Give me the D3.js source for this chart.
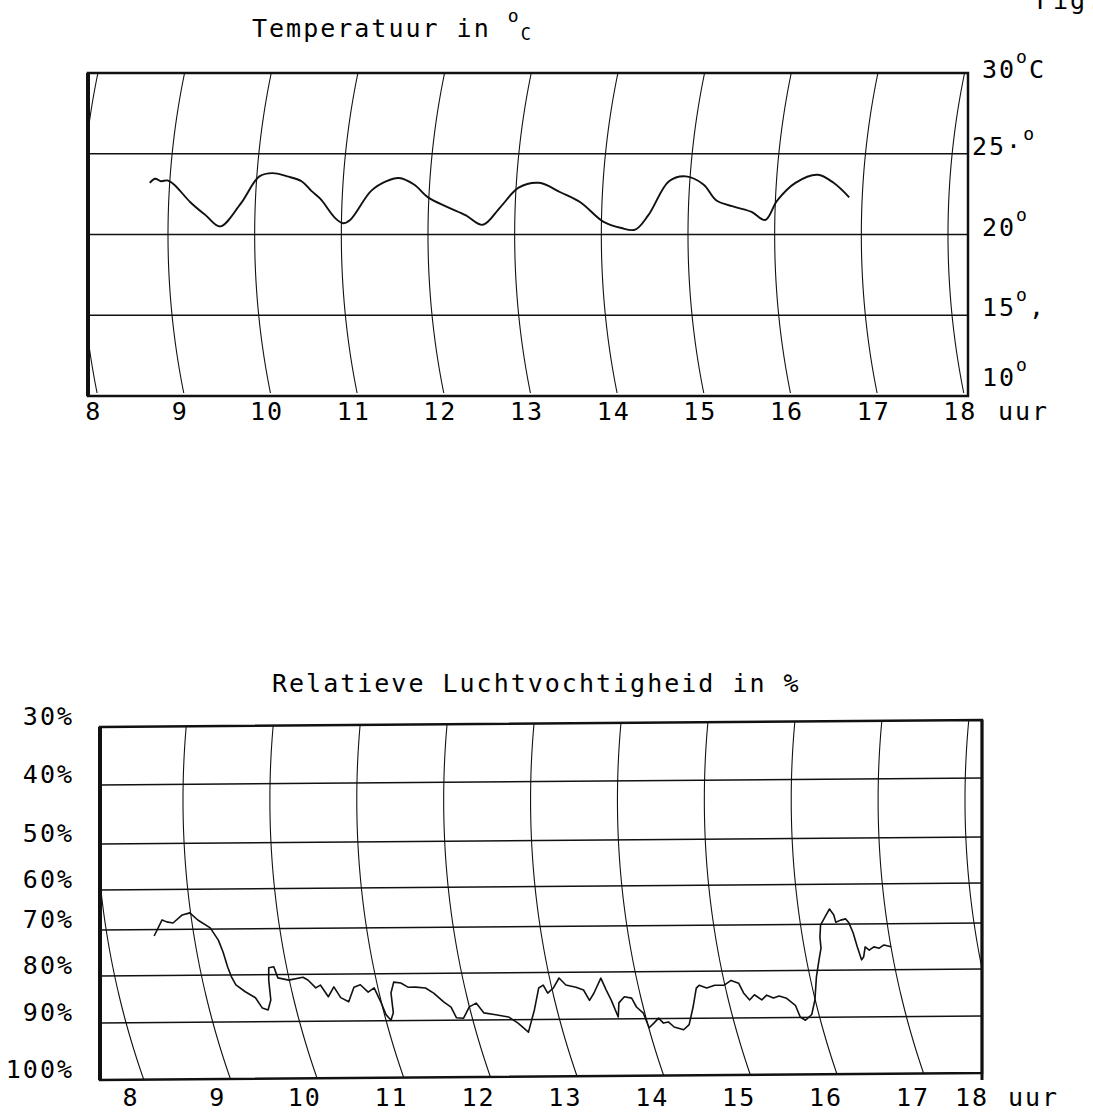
<!DOCTYPE html>
<html lang="nl">
<head>
<meta charset="UTF-8">
<title>Temperatuur en luchtvochtigheid</title>
<script src="https://cdn.jsdelivr.net/npm/d3@7"></script>
<style>
    html, body {
        margin: 0;
        padding: 0;
        background: #fff;
        overflow: hidden;
    }
    text {
        font-family: "DejaVu Sans Mono", monospace;
        fill: #000;
        font-size: 25px;
        letter-spacing: 2px;
    }
</style>
</head>
<body>
<script>
    // uren op de registreerstrook
    let hours = [8, 9, 10, 11, 12, 13, 14, 15, 16, 17, 18];

    // temperatuur in graden C
    let tempTicks = [10, 15, 20, 25, 30];
    let tempTime = [8.77, 8.83, 8.90, 8.97, 9.05, 9.25, 9.43, 9.60, 9.83, 10.03, 10.18, 10.35, 10.52, 10.64,
        10.75, 10.93, 11.02, 11.10, 11.33, 11.50, 11.64, 11.82, 11.99, 12.22, 12.43, 12.63, 12.83, 13.03,
        13.26, 13.52, 13.75, 14.02, 14.23, 14.39, 14.54, 14.76, 14.95, 15.16, 15.32, 15.54, 15.73, 15.89,
        16.02, 16.22, 16.47, 16.66, 16.85];
    let tempValue = [23.2, 23.45, 23.3, 23.35, 23.1, 22.0, 21.2, 20.5, 21.9, 23.6, 23.8, 23.6, 23.3, 22.7,
        22.2, 21.0, 20.7, 20.9, 22.7, 23.3, 23.5, 23.1, 22.3, 21.7, 21.2, 20.6, 21.7, 22.9,
        23.2, 22.6, 22.0, 20.8, 20.4, 20.3, 21.2, 23.3, 23.6, 23.1, 22.1, 21.7, 21.4, 20.9,
        22.1, 23.2, 23.7, 23.2, 22.3];

    // relatieve luchtvochtigheid in %
    let rhTicks = [30, 40, 50, 60, 70, 80, 90, 100];
    let rhTime = [8.54, 8.66, 8.71, 8.78, 8.90, 8.99, 9.07, 9.20, 9.27, 9.30, 9.32, 9.34, 9.37, 9.46, 9.56,
        9.61, 9.67, 9.73, 9.76, 9.79, 9.85, 9.87, 9.99, 10.16, 10.21, 10.28, 10.34, 10.40, 10.49, 10.54,
        10.62, 10.72, 10.80, 10.87, 10.95, 10.99, 11.01, 11.05, 11.10, 11.13, 11.19, 11.27, 11.34, 11.43,
        11.54, 11.62, 11.71, 11.78, 11.81, 11.89, 11.99, 12.08, 12.14, 12.27, 12.41, 12.50, 12.59, 12.73,
        12.84, 12.90, 12.93, 13.01, 13.10, 13.16, 13.27, 13.35, 13.39, 13.46, 13.58, 13.61, 13.64, 13.67,
        13.72, 13.80, 13.88, 13.91, 13.97, 13.99, 14.06, 14.13, 14.17, 14.23, 14.28, 14.38, 14.46, 14.56,
        14.65, 14.69, 14.77, 14.87, 14.98, 15.07, 15.15, 15.18, 15.23, 15.30, 15.37, 15.44, 15.51, 15.58,
        15.66, 15.74, 15.76, 15.81, 15.90, 15.98, 16.06, 16.13, 16.18, 16.19, 16.22, 16.30, 16.35, 16.39,
        16.40, 16.46, 16.52, 16.55, 16.58, 16.60, 16.62, 16.65, 16.69, 16.73, 16.79, 16.85, 16.91, 16.99];
    let rhValue = [71.4, 67.6, 68.1, 68.4, 66.4, 65.9, 67.7, 69.7, 72.4, 75.0, 78.3, 80.4, 82.1, 83.6, 84.9,
        87.1, 87.5, 85.4, 81.1, 78.5, 78.3, 80.7, 81.2, 80.6, 81.2, 82.9, 82.3, 84.8, 82.7, 85.0,
        85.9, 82.8, 82.3, 83.9, 83.0, 86.2, 88.7, 89.9, 88.3, 84.1, 81.8, 82.0, 82.9, 82.9,
        83.1, 84.2, 86.1, 87.2, 89.5, 89.6, 87.2, 86.4, 88.5, 88.9, 89.4, 90.6, 92.2, 87.9,
        83.3, 82.7, 84.4, 83.3, 81.2, 82.7, 83.2, 83.8, 86.0, 84.5, 81.3, 83.8, 86.0, 89.6,
        86.6, 85.3, 85.6, 87.5, 88.8, 91.6, 90.8, 89.9, 90.8, 90.6, 91.5, 92.0, 91.1, 87.6,
        83.6, 83.0, 83.6, 83.0, 83.0, 82.0, 82.6, 84.7, 86.2, 85.1, 86.2, 85.2, 85.8, 85.4,
        85.9, 87.4, 89.9, 90.5, 89.4, 86.3, 81.4, 77.8, 75.2, 72.8, 70.2, 67.7, 66.2, 67.7,
        69.5, 69.0, 68.7, 69.7, 71.9, 75.0, 77.8, 77.2, 75.0, 75.7, 75.0, 75.3, 74.6, 75.0];

    let width = 1093;
    let height = 1116;

    let svg = d3.select('body').append('svg')
        .attr('width', width)
        .attr('height', height);

    let ink = '#111';
    let line = d3.line();

    // ---------- temperatuur ----------
    let T = {left: 88, right: 968, top: 73, bottom: 396};
    let xT = d3.scaleLinear().domain([9, 18]).range([168, 948]);
    let yT = d3.scaleLinear().domain([10, 30]).range([T.bottom, T.top]);
    // de uurlijnen zijn cirkelbogen (schrijfarm)
    let radT = 800, midT = 235;
    let bendT = py => radT - Math.sqrt(radT * radT - (py - midT) * (py - midT));

    svg.append('clipPath').attr('id', 'clipT')
        .append('rect')
        .attr('x', T.left).attr('y', T.top)
        .attr('width', T.right - T.left).attr('height', T.bottom - T.top);

    let gT = svg.append('g');
    let gTc = gT.append('g').attr('clip-path', 'url(#clipT)');

    gTc.selectAll('.grid')
        .data(tempTicks.slice(1, -1))
        .enter().append('line')
        .attr('x1', T.left).attr('x2', T.right)
        .attr('y1', d => yT(d)).attr('y2', d => yT(d))
        .attr('stroke', ink).attr('stroke-width', 1.3);

    gTc.selectAll('.hour')
        .data(hours)
        .enter().append('path')
        .attr('d', h => line(d3.range(T.top, T.bottom + 1, 4).map(py => [xT(h) + bendT(py), py])))
        .attr('fill', 'none').attr('stroke', ink).attr('stroke-width', 1.1);

    let tempData = tempTime.map((t, i) => [t, tempValue[i]]);
    gTc.append('path')
        .attr('d', d3.line()
            .x(d => xT(d[0]) + bendT(yT(d[1])))
            .y(d => yT(d[1]))
            .curve(d3.curveCatmullRom)(tempData))
        .attr('fill', 'none').attr('stroke', ink).attr('stroke-width', 1.9);

    gT.append('rect')
        .attr('x', T.left).attr('y', T.top)
        .attr('width', T.right - T.left).attr('height', T.bottom - T.top)
        .attr('fill', 'none').attr('stroke', ink).attr('stroke-width', 2.5);
    gT.append('line')
        .attr('x1', T.left).attr('x2', T.left).attr('y1', T.top).attr('y2', T.bottom)
        .attr('stroke', ink).attr('stroke-width', 4);

    // titel en labels
    let title1 = gT.append('text').attr('x', 252).attr('y', 37);
    title1.append('tspan').text('Temperatuur in ');
    title1.append('tspan').attr('dy', -15).attr('font-size', 18).text('o');
    title1.append('tspan').attr('dy', 18).attr('font-size', 17).text('C');

    let tLab = gT.selectAll('.tlab')
        .data(tempTicks.slice().reverse())
        .enter().append('text')
        .attr('x', d => d === 25 ? 972 : 982)
        .attr('y', d => yT(d) + (d === 10 ? -10 : d === 30 ? 5 : 1));
    tLab.append('tspan').text(d => d + (d === 25 ? '·' : ''));
    tLab.append('tspan').attr('dy', -15).attr('font-size', 18).text('o');
    tLab.append('tspan').attr('dy', 15).text(d => d === 30 ? 'C' : d === 15 ? ',' : '');

    gT.selectAll('.hlab')
        .data(hours)
        .enter().append('text')
        .attr('x', h => xT(h) + bendT(T.bottom) - 4)
        .attr('y', 420)
        .attr('text-anchor', 'middle')
        .text(h => h);
    gT.append('text').attr('x', 998).attr('y', 420).text('uur');

    svg.append('text').attr('x', 1036).attr('y', 9).text('Fig.');

    // ---------- relatieve luchtvochtigheid ----------
    let B = {left: 100, right: 982, top: 727, bottom: 1080};
    let xB = d3.scaleLinear().domain([9, 18]).range([183, 965]);
    let yB = d3.scaleLinear().domain(rhTicks).range([727, 785, 844, 890, 930, 976, 1023, 1080]);
    let radB = 844, midB = 800;
    let bendB = py => radB - Math.sqrt(radB * radB - (py - midB) * (py - midB));
    // de strook ligt iets scheef
    let tilt = px => -7 * (px - B.left) / (B.right - B.left);

    let boxB = [
        [B.left, yB(30) + tilt(B.left)], [B.right, yB(30) + tilt(B.right)],
        [B.right, yB(100) + tilt(B.right)], [B.left, yB(100) + tilt(B.left)]
    ];

    svg.append('clipPath').attr('id', 'clipB')
        .append('path').attr('d', line(boxB) + 'Z');

    let gB = svg.append('g');
    let gBc = gB.append('g').attr('clip-path', 'url(#clipB)');

    gBc.selectAll('.grid')
        .data(rhTicks.slice(1, -1))
        .enter().append('line')
        .attr('x1', B.left).attr('x2', B.right)
        .attr('y1', d => yB(d) + tilt(B.left)).attr('y2', d => yB(d) + tilt(B.right))
        .attr('stroke', ink).attr('stroke-width', 1.4);

    gBc.selectAll('.hour')
        .data(hours)
        .enter().append('path')
        .attr('d', h => line(d3.range(B.top - 8, B.bottom + 1, 4).map(py => [xB(h) + bendB(py), py])))
        .attr('fill', 'none').attr('stroke', ink).attr('stroke-width', 1.1);

    let rhData = rhTime.map((t, i) => [t, rhValue[i]]);
    gBc.append('path')
        .attr('d', d3.line()
            .x(d => xB(d[0]) + bendB(yB(d[1])))
            .y(d => yB(d[1]) + tilt(xB(d[0]) + bendB(yB(d[1]))))(rhData))
        .attr('fill', 'none').attr('stroke', ink).attr('stroke-width', 1.6)
        .attr('stroke-linejoin', 'round');

    gB.append('path')
        .attr('d', line(boxB) + 'Z')
        .attr('fill', 'none').attr('stroke', ink).attr('stroke-width', 2.5);
    gB.append('line')
        .attr('x1', B.left).attr('x2', B.left).attr('y1', yB(30)).attr('y2', yB(100))
        .attr('stroke', ink).attr('stroke-width', 4);
    gB.append('line')
        .attr('x1', B.right).attr('x2', B.right).attr('y1', yB(30) + tilt(B.right)).attr('y2', yB(100))
        .attr('stroke', ink).attr('stroke-width', 3);

    gB.append('text').attr('x', 272).attr('y', 692).text('Relatieve Luchtvochtigheid in %');

    gB.selectAll('.rlab')
        .data(rhTicks)
        .enter().append('text')
        .attr('x', 74)
        .attr('y', d => yB(d) - 2)
        .attr('text-anchor', 'end')
        .text(d => d + '%');

    // uurlabels onder de strook, bij de boog iets boven de rand
    gB.selectAll('.hlab')
        .data(hours)
        .enter().append('text')
        .attr('x', h => Math.min(xB(h) + bendB(1040), 972))
        .attr('y', 1106)
        .attr('text-anchor', 'middle')
        .text(h => h);
    gB.append('text').attr('x', 1008).attr('y', 1106).text('uur');
</script>
</body>
</html>
